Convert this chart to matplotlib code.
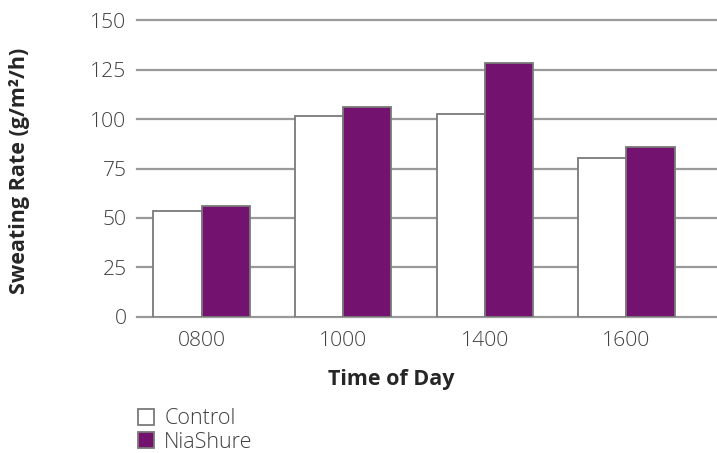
import matplotlib
matplotlib.use("Agg")
import matplotlib.pyplot as plt
from matplotlib.patches import Patch
import numpy as np

categories = ["0800", "1000", "1400", "1600"]
control = [53.4, 101.4, 102.6, 80.2]
niashure = [56.3, 106.1, 128.7, 85.7]
yticks = [0, 25, 50, 75, 100, 125, 150]
series_names = ["Control", "NiaShure"]

plt.rcParams['font.family'] = ['Open Sans', 'DejaVu Sans']

purple = "#73136F"
edge = "#7a7a7a"
grid_c = "#9a9a9a"
text_c = "#404040"

fig = plt.figure(figsize=(7.17, 4.53), dpi=100)
ax = fig.add_axes([137/717, 1-316.7/453, 1-137/717, (316.7-20.5)/453])

x = np.arange(len(categories))
w = 0.34
for yv in yticks:
    ax.axhline(yv, color=grid_c, lw=1.6, zorder=1, clip_on=False)
ax.bar(x - w/2, control, w, color="white", edgecolor=edge, linewidth=1.3, zorder=3)
ax.bar(x + w/2, niashure, w, color=purple, edgecolor=edge, linewidth=1.3, zorder=3)

ax.set_xlim(-0.456, 3.64)
ax.set_ylim(0, 150)
ax.set_yticks(yticks)
ax.set_yticklabels([str(v) for v in yticks])
ax.set_xticks(x)
ax.set_xticklabels(categories)
for s in ax.spines.values():
    s.set_visible(False)
ax.tick_params(axis='both', length=0, labelsize=15.2, colors=text_c)
ax.tick_params(axis='y', pad=7.5)
ax.tick_params(axis='x', pad=10.5)
for lab in ax.get_xticklabels() + ax.get_yticklabels():
    lab.set_fontweight('light')

fig.text(391/717, 1-379/453, "Time of Day", fontsize=15.5, fontweight='bold',
         color="#262626", ha='center', va='center')
fig.text(20/717, 1-171/453, "Sweating Rate (g/m²/h)", rotation=90, fontsize=15.5,
         fontweight='bold', color="#262626", ha='center', va='center')

handles = [Patch(facecolor="white", edgecolor=edge, linewidth=1.3),
           Patch(facecolor=purple, edgecolor=edge, linewidth=1.3)]
leg = fig.legend(handles, series_names, loc='upper left', bbox_to_anchor=(134/717, 1-404/453),
                 frameon=False, fontsize=15.5, handlelength=0.75, handleheight=0.75,
                 handletextpad=0.45, labelspacing=0.12, borderpad=0.2, borderaxespad=0)
for t in leg.get_texts():
    t.set_color(text_c)
    t.set_fontweight('light')

fig.savefig("out.png", dpi=100)
